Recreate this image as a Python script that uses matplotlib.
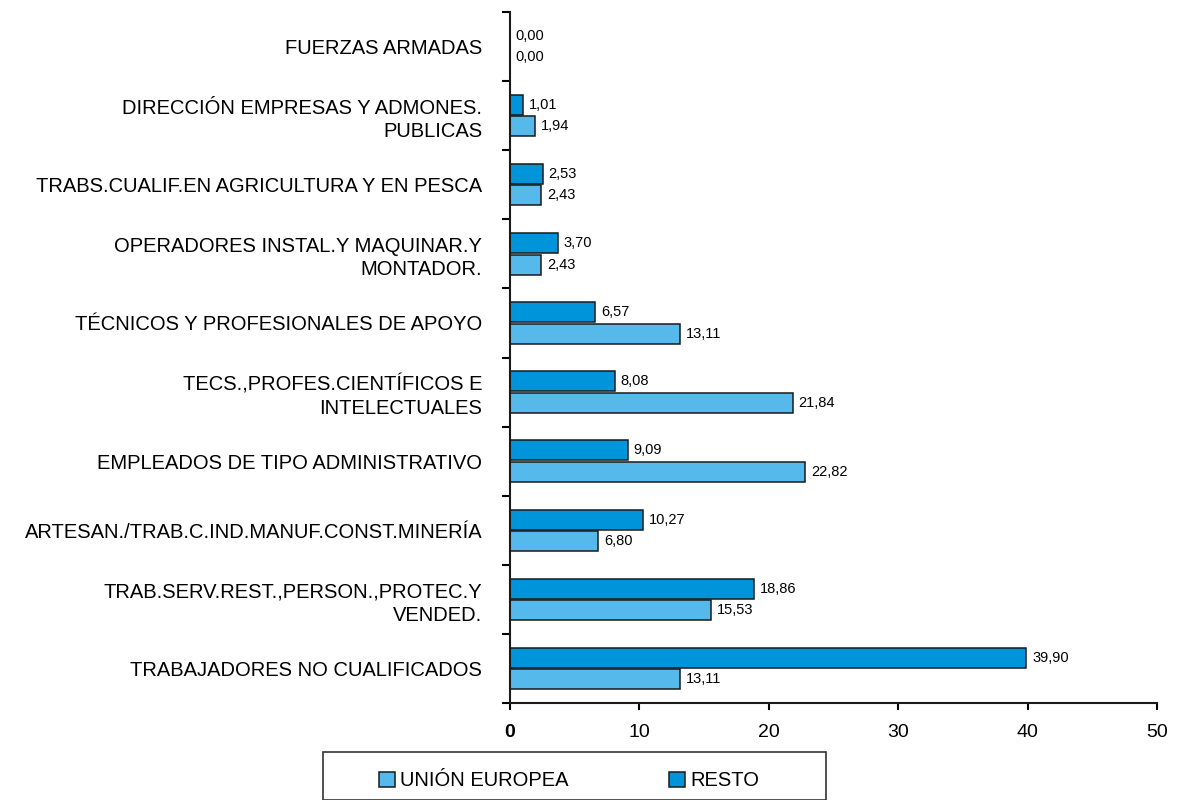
import numpy as np
import matplotlib.pyplot as plt
from matplotlib.patches import Rectangle

plt.rcParams['font.family'] = ['Liberation Sans', 'DejaVu Sans']

# categorias de abajo hacia arriba
categorias = ["TRABAJADORES NO CUALIFICADOS",
              "TRAB.SERV.REST.,PERSON.,PROTEC.Y\nVENDED.",
              "ARTESAN./TRAB.C.IND.MANUF.CONST.MINERÍA",
              "EMPLEADOS DE TIPO ADMINISTRATIVO",
              "TECS.,PROFES.CIENTÍFICOS E\nINTELECTUALES",
              "TÉCNICOS Y PROFESIONALES DE APOYO",
              "OPERADORES INSTAL.Y MAQUINAR.Y\nMONTADOR.",
              "TRABS.CUALIF.EN AGRICULTURA Y EN PESCA",
              "DIRECCIÓN EMPRESAS Y ADMONES.\nPUBLICAS",
              "FUERZAS ARMADAS"]
union_europea = [13.11, 15.53, 6.80, 22.82, 21.84, 13.11, 2.43, 2.43, 1.94, 0.00]
resto = [39.90, 18.86, 10.27, 9.09, 8.08, 6.57, 3.70, 2.53, 1.01, 0.00]
x_ticks = [0, 10, 20, 30, 40, 50]

col_ue = '#55B9EB'
col_resto = '#0095DA'

fig = plt.figure(figsize=(11.77, 8), dpi=100)
ax = fig.add_axes([510 / 1177, 1 - 703 / 800, 647 / 1177, 691 / 800])

y = np.arange(len(categorias))
h = 0.29
off = 0.155
b_ue = ax.barh(y - off, union_europea, height=h, color=col_ue, edgecolor='#1a1a1a',
               linewidth=1.1, label='UNIÓN EUROPEA')
b_re = ax.barh(y + off, resto, height=h, color=col_resto, edgecolor='#1a1a1a',
               linewidth=1.1, label='RESTO')

# etiquetas de valor con coma decimal
for yy, v in zip(y - off, union_europea):
    ax.text(v + 0.45, yy, f"{v:.2f}".replace('.', ','), va='center', ha='left', fontsize=10.5)
for yy, v in zip(y + off, resto):
    ax.text(v + 0.45, yy, f"{v:.2f}".replace('.', ','), va='center', ha='left', fontsize=10.5)

ax.set_xlim(0, 50)
ax.set_ylim(-0.5, len(categorias) - 0.5)
ax.set_xticks(x_ticks)
ax.set_xticklabels([str(t) for t in x_ticks], fontsize=14)
ax.get_xticklabels()[0].set_fontweight('bold')
ax.tick_params(axis='x', direction='out', length=5, width=1.5, pad=10)

ax.set_yticks(y)
ax.set_yticklabels(categorias, fontsize=14.5, linespacing=1.3)
ax.tick_params(axis='y', which='major', length=0, pad=20)
ax.set_yticks(np.arange(-0.5, len(categorias), 1), minor=True)
ax.tick_params(axis='y', which='minor', direction='out', length=6, width=1.5)

for s in ['top', 'right']:
    ax.spines[s].set_visible(False)
for s in ['left', 'bottom']:
    ax.spines[s].set_linewidth(1.5)
    ax.spines[s].set_color('#1a1a1a')

# leyenda con recuadro
fig.patches.append(Rectangle((323 / 1177, 0), 503 / 1177, 40 / 800 + 0.01,
                             transform=fig.transFigure, fill=False,
                             edgecolor='#333333', linewidth=1.2))
fig.legend(handles=[b_ue, b_re], loc='center', bbox_to_anchor=(569 / 1177, 1 - 781 / 800),
           ncol=2, frameon=False, fontsize=14.5, handlelength=0.8, handleheight=0.8,
           handletextpad=0.25, columnspacing=5.0)

fig.savefig('out.png', dpi=100)
